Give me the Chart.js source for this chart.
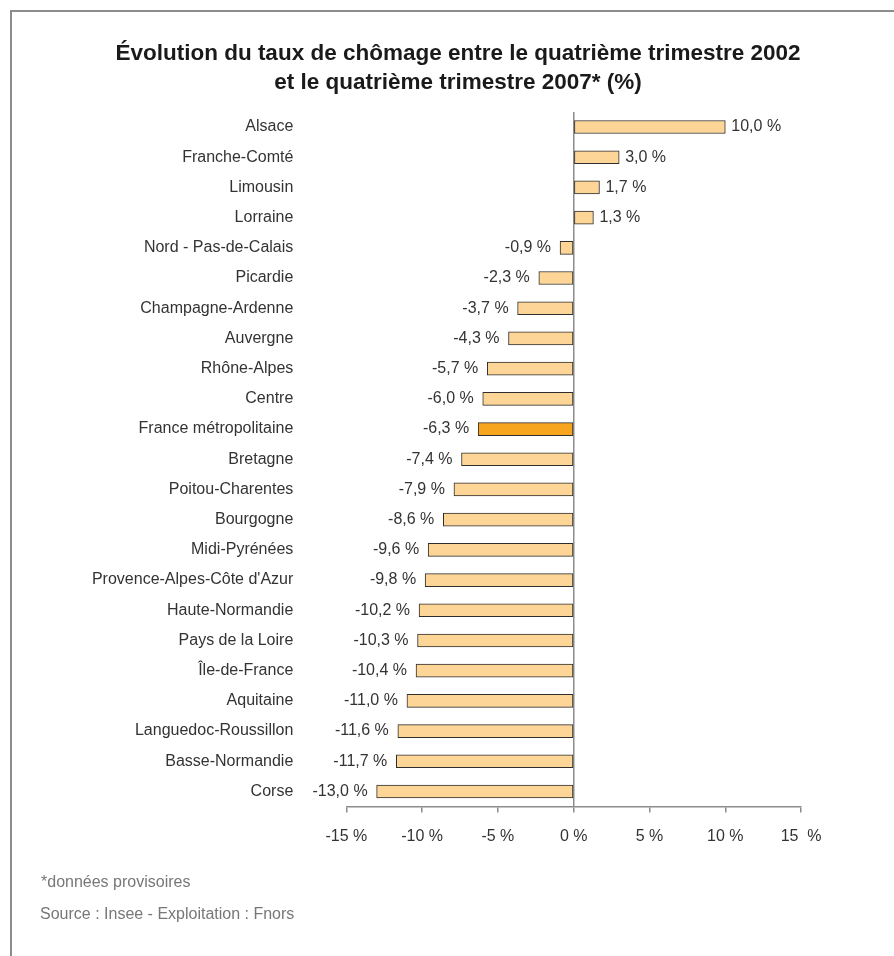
<!DOCTYPE html>
<html lang="fr">
<head>
<meta charset="utf-8">
<title>Évolution du taux de chômage</title>
<script src="https://cdn.jsdelivr.net/npm/chart.js@4.4.1/dist/chart.umd.min.js"></script>
<style>
  html, body { margin: 0; padding: 0; background: #fff; }
  canvas { display: block; }
</style>
</head>
<body>
<canvas id="chomageChart" width="894" height="956"></canvas>
<script>
// Regions, top to bottom
const regions = [
    'Alsace', 'Franche-Comté', 'Limousin', 'Lorraine', 'Nord - Pas-de-Calais',
    'Picardie', 'Champagne-Ardenne', 'Auvergne', 'Rhône-Alpes', 'Centre',
    'France métropolitaine', 'Bretagne', 'Poitou-Charentes', 'Bourgogne',
    'Midi-Pyrénées', "Provence-Alpes-Côte d'Azur", 'Haute-Normandie',
    'Pays de la Loire', 'Île-de-France', 'Aquitaine', 'Languedoc-Roussillon',
    'Basse-Normandie', 'Corse'
];

// Change in unemployment rate, Q4 2002 -> Q4 2007 (points)
const evolution = [
    10.0, 3.0, 1.7, 1.3, -0.9, -2.3, -3.7, -4.3, -5.7, -6.0, -6.3, -7.4,
    -7.9, -8.6, -9.6, -9.8, -10.2, -10.3, -10.4, -11.0, -11.6, -11.7, -13.0
];

const tickLabels = ['-15 %', '-10 %', '-5 %', '0 %', '5 %', '10 %', '15  %'];

const titleLines = [
    'Évolution du taux de chômage entre le quatrième trimestre 2002',
    'et le quatrième trimestre 2007* (%)'
];
const noteText = '*données provisoires';
const sourceText = 'Source : Insee - Exploitation : Fnors';

const highlight = 'France métropolitaine';

Chart.defaults.font.family = "'Liberation Sans', Arial, sans-serif";
Chart.defaults.font.size = 16;
Chart.defaults.color = '#333';

const fmt = v => v.toFixed(1).replace('.', ',') + ' %';

// frame, title and footer text
const decorations = {
    id: 'decorations',
    beforeDraw(chart) {
        const ctx = chart.ctx;
        ctx.save();
        ctx.strokeStyle = '#8c8c8c';
        ctx.lineWidth = 2;
        ctx.beginPath();
        ctx.moveTo(11, 956);
        ctx.lineTo(11, 11);
        ctx.lineTo(894, 11);
        ctx.stroke();

        ctx.fillStyle = '#1a1a1a';
        ctx.font = "bold 22.5px 'Liberation Sans', Arial, sans-serif";
        ctx.textAlign = 'center';
        ctx.textBaseline = 'middle';
        ctx.fillText(titleLines[0], 458, 54);
        ctx.fillText(titleLines[1], 458, 83);

        ctx.fillStyle = '#777';
        ctx.font = "16px 'Liberation Sans', Arial, sans-serif";
        ctx.textAlign = 'left';
        ctx.fillText(noteText, 41, 883);
        ctx.fillText(sourceText, 40, 915);
        ctx.restore();
    }
};

// value labels at the end of each bar
const valueLabels = {
    id: 'valueLabels',
    afterDatasetsDraw(chart) {
        const ctx = chart.ctx;
        const meta = chart.getDatasetMeta(0);
        ctx.save();
        ctx.fillStyle = '#333';
        ctx.font = "16px 'Liberation Sans', Arial, sans-serif";
        ctx.textBaseline = 'middle';
        meta.data.forEach((bar, i) => {
            const v = evolution[i];
            if (v >= 0) {
                ctx.textAlign = 'left';
                ctx.fillText(fmt(v), bar.x + 6, bar.y);
            } else {
                ctx.textAlign = 'right';
                ctx.fillText(fmt(v), bar.x - 9, bar.y);
            }
        });
        ctx.restore();
    }
};

const ctx = document.getElementById('chomageChart').getContext('2d');
const chart = new Chart(ctx, {
    type: 'bar',
    data: {
        labels: regions,
        datasets: [{
            data: evolution,
            backgroundColor: regions.map(r => r === highlight ? '#f7a41f' : '#fdd597'),
            borderColor: '#2e2e2e',
            borderWidth: 1,
            borderSkipped: false,
            barThickness: 13
        }]
    },
    options: {
        indexAxis: 'y',
        responsive: false,
        animation: false,
        layout: {
            padding: { top: 111.9, right: 92.9, bottom: 0, left: 0 }
        },
        plugins: {
            legend: { display: false },
            tooltip: { enabled: false }
        },
        scales: {
            x: {
                min: -15,
                max: 15,
                ticks: {
                    stepSize: 5,
                    padding: 14,
                    color: '#333',
                    callback: (value, index) => tickLabels[index]
                },
                grid: {
                    drawTicks: true,
                    tickLength: 6,
                    tickColor: '#8c8c8c',
                    lineWidth: 1.5,
                    color: c => c.tick && c.tick.value === 0 ? '#8c8c8c' : 'rgba(0,0,0,0)'
                },
                border: { display: true, color: '#8c8c8c', width: 1.5 },
                afterFit: scale => {
                    scale.height = 956 - 806.6;
                    scale.paddingLeft = 0;
                    scale.paddingRight = 0;
                }
            },
            y: {
                ticks: { padding: 53, color: '#333' },
                grid: { display: false, drawTicks: false },
                border: { display: false },
                afterFit: scale => {
                    scale.width = 346.3;
                    scale.paddingTop = 0;
                    scale.paddingBottom = 0;
                }
            }
        }
    },
    plugins: [decorations, valueLabels]
});
</script>
</body>
</html>
